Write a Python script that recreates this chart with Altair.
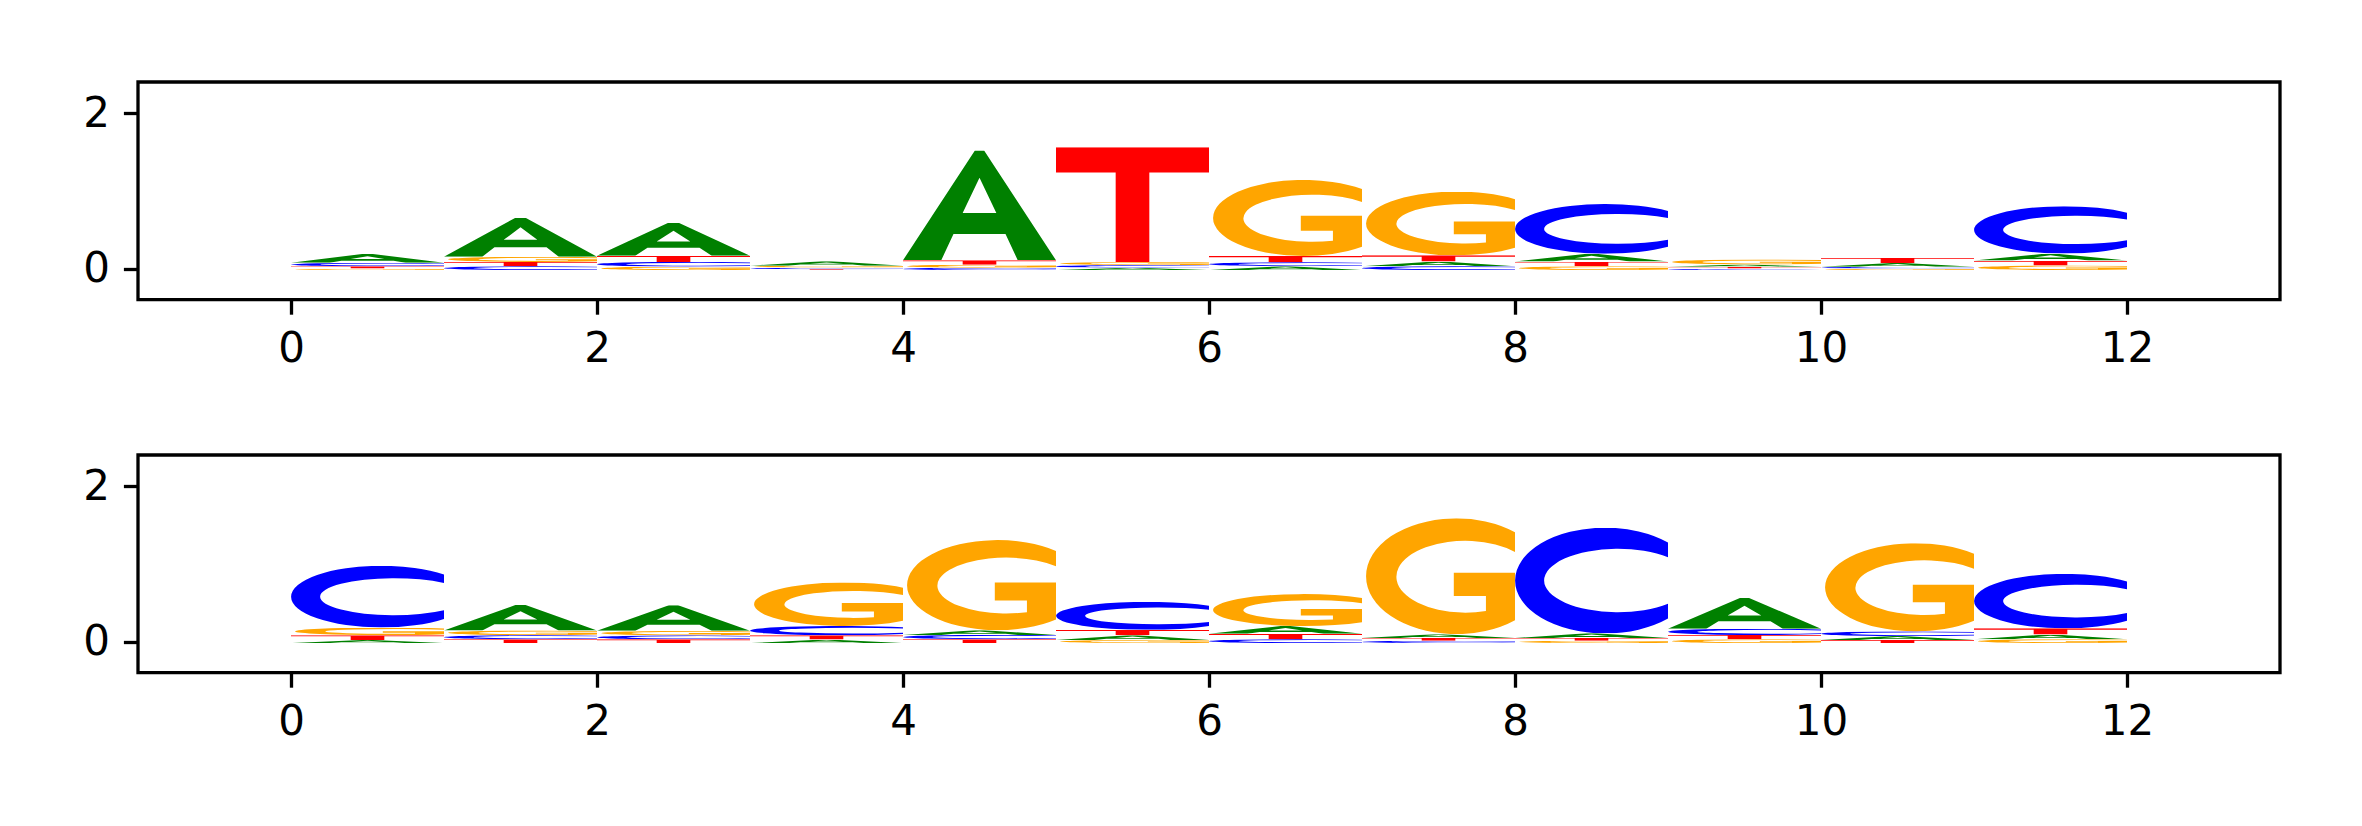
import base64
import altair as alt
import pandas as pd

# ---------------- data ----------------
positions = list(range(12))
bases = ["A", "C", "G", "T"]

# letter heights per position, top logo
top_A = [0.115, 0.504, 0.427, 0.055, 1.414, 0.030, 0.050, 0.060, 0.100, 0.030, 0.050, 0.090]
top_C = [0.043, 0.050, 0.060, 0.020, 0.030, 0.035, 0.052, 0.050, 0.640, 0.020, 0.022, 0.610]
top_G = [0.020, 0.067, 0.045, 0.025, 0.040, 0.038, 0.978, 0.820, 0.050, 0.065, 0.020, 0.060]
top_T = [0.030, 0.055, 0.080, 0.012, 0.056, 1.476, 0.080, 0.080, 0.060, 0.022, 0.067, 0.062]

# letter heights per position, bottom logo
bot_A = [0.040, 0.330, 0.330, 0.045, 0.060, 0.060, 0.100, 0.050, 0.060, 0.395, 0.050, 0.060]
bot_C = [0.794, 0.052, 0.051, 0.120, 0.055, 0.360, 0.050, 0.030, 1.360, 0.080, 0.060, 0.700]
bot_G = [0.100, 0.060, 0.058, 0.560, 1.160, 0.040, 0.410, 1.490, 0.030, 0.050, 1.135, 0.050]
bot_T = [0.060, 0.050, 0.048, 0.055, 0.050, 0.070, 0.070, 0.035, 0.035, 0.055, 0.040, 0.080]

stack_floor = -0.02
x_ticks = [0, 2, 4, 6, 8, 10, 12]
y_ticks = [0, 2]

# ---------------- glyphs ----------------
colors = {"A": "green", "C": "blue", "G": "orange", "T": "red"}
glyph_paths = {
    "A": "M0,100 L47,0 L53,0 L100,100 L75,100 L67,76 L33,76 L25,100 Z M39,57 L50,25 L61,57 Z",
    "C": "M100,14 A59,50 0 1 0 100,86 L100,72 A48.2,30 0 1 1 100,28 Z",
    "G": "M100,12 A59,50 0 1 0 100,88 L100,47 L60,47 L60,67 L81,67 L81,80 A45,31 0 1 1 100,29 Z",
    "T": "M0,0 H100 V22 H61 V100 H39 V22 H0 Z",
}


def glyph_url(letter):
    svg = (
        '<svg xmlns="http://www.w3.org/2000/svg" viewBox="0 0 100 100" '
        'preserveAspectRatio="none" width="100" height="100">'
        f'<path fill="{colors[letter]}" fill-rule="evenodd" d="{glyph_paths[letter]}"/></svg>'
    )
    return "data:image/svg+xml;base64," + base64.b64encode(svg.encode()).decode()


urls = {b: glyph_url(b) for b in bases}


def build_rows(panel, A, C, G, T):
    rows = []
    heights = {"A": A, "C": C, "G": G, "T": T}
    for i in positions:
        order = sorted(bases, key=lambda b: heights[b][i])
        y = stack_floor
        for b in order:
            h = heights[b][i]
            rows.append({"panel": panel, "x0": i, "x1": i + 1, "ybot": y, "ytop": y + h,
                         "letter": b, "url": urls[b]})
            y += h
    return rows


df = pd.DataFrame(build_rows("top", top_A, top_C, top_G, top_T)
                  + build_rows("bottom", bot_A, bot_C, bot_G, bot_T))


def panel(name):
    return alt.Chart(df).transform_filter(alt.datum.panel == name).mark_image(aspect=False).encode(
        x=alt.X("x0:Q", scale=alt.Scale(domain=[-1, 13], nice=False, zero=False),
                axis=alt.Axis(values=x_ticks, format="d", title=None, labelFlush=False)),
        x2="x1:Q",
        y=alt.Y("ytop:Q", scale=alt.Scale(domain=[-0.4, 2.4], nice=False, zero=False),
                axis=alt.Axis(values=y_ticks, format="d", title=None)),
        y2="ybot:Q",
        url="url:N",
    ).properties(width=2142, height=217.6)


chart = alt.vconcat(panel("top"), panel("bottom"), spacing=155, bounds="flush").properties(
    padding={"left": 73, "top": 72, "right": 10, "bottom": 10}
).configure_view(
    stroke="black", strokeWidth=3.3
).configure_axis(
    domain=False, grid=False, ticks=True, tickColor="black", tickWidth=3.3, tickSize=14.6,
    labelFont="DejaVu Sans", labelFontSize=42, labelColor="black", labelPadding=14,
)

chart.save("out.html", embed_options={"renderer": "svg", "actions": False})
